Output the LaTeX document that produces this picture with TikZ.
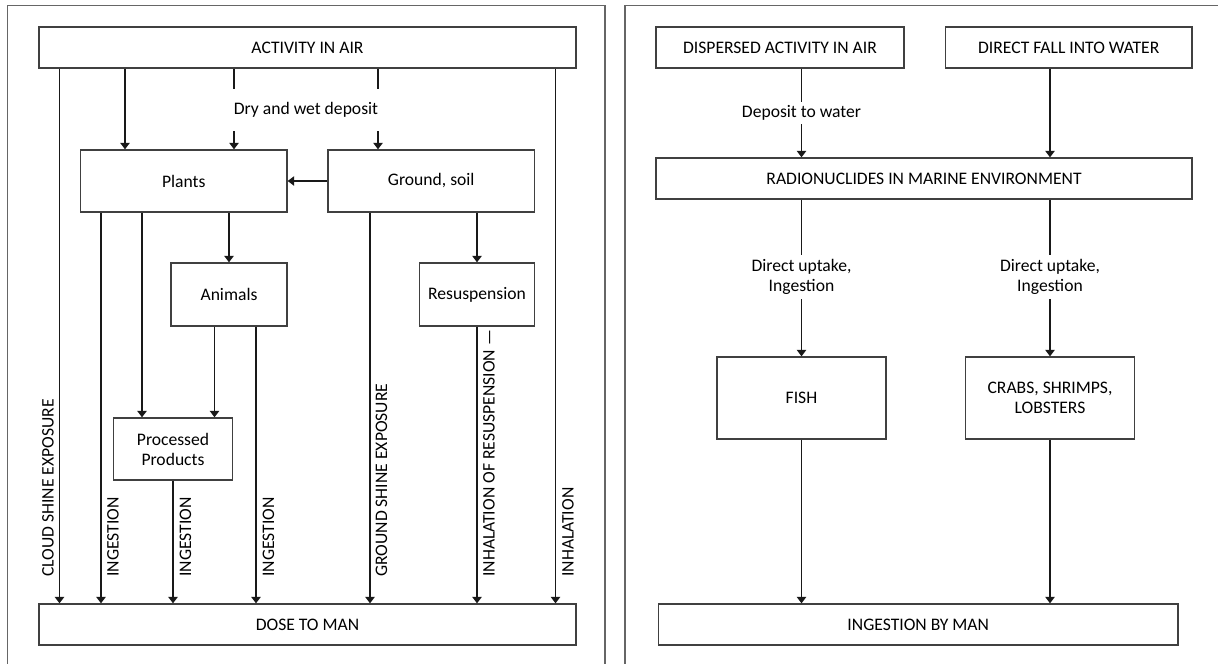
\documentclass[tikz,border=0pt]{standalone}
\usepackage{fontspec}
\setmainfont{Carlito}
\usepackage{tikz}
\usetikzlibrary{arrows.meta}
\usetikzlibrary{calc}

\tikzset{
  box/.style 2 args={draw=black!75, line width=1pt, minimum width=#1*0.75pt,
    minimum height=#2*0.75pt, inner sep=0pt, align=center},
  flow/.style={line width=0.8pt, black!90, -{Triangle[width=7pt,length=4.8pt]}},
  link/.style={line width=0.8pt, black!90},
  vlabel/.style={rotate=90, anchor=west, inner sep=0pt},
  hub/.style={inner sep=0pt, align=center},
  frame/.style={draw=black!60, line width=1.2pt}
}

\begin{document}
\begin{tikzpicture}[x=0.75pt, y=-0.75pt, font=\fontsize{13.2}{15}\selectfont]

      \useasboundingbox (0,0) rectangle (1218,664);
      \clip (0,0) rectangle (1218,664);

      % panels
      \draw [frame] (7.5,5.5) rectangle (605,680);
      \draw [frame] (625,5.5) rectangle (1240,680);

      % left panel: boxes
      \node [box={537}{41}] (air) at (307.5,47.5) {ACTIVITY IN AIR};
      \node [box={206.5}{62}] (plants) at (183.75,181) {Plants};
      \node [box={206.5}{62}] (ground) at (431.25,181) {Ground, soil};
      \node [box={116}{63}] (animals) at (229,294.5) {Animals};
      \node [box={115.5}{63}] (resusp) at (477,294.5) {Resuspension};
      \node [box={119.5}{62}] (processed) at (173,449) {Processed\\Products};
      \node [box={537}{41}] (dose) at (307.5,624.5) {DOSE TO MAN};
      \node [hub, minimum height=42*0.75pt] (deposit) at (306,110) {Dry and wet deposit};

      % columns
      \coordinate (xcloud) at (59.5,0);
      \coordinate (xair) at (125,0);
      \coordinate (xdepa) at (234,0);
      \coordinate (xdepb) at (378,0);
      \coordinate (xinh) at (555.5,0);
      \coordinate (xingA) at (101,0);
      \coordinate (xproc) at (142,0);
      \coordinate (xanproc) at (214.5,0);
      \coordinate (xingC) at (256,0);
      \coordinate (xshine) at (370,0);

      \draw [flow] (air.south -| xcloud) -- (dose.north -| xcloud);
      \draw [flow] (air.south -| xair) -- (plants.north -| xair);
      \draw [link] (air.south -| xdepa) -- (deposit.north -| xdepa);
      \draw [link] (air.south -| xdepb) -- (deposit.north -| xdepb);
      \draw [flow] (deposit.south -| xdepa) -- (plants.north -| xdepa);
      \draw [flow] (deposit.south -| xdepb) -- (ground.north -| xdepb);
      \draw [flow] (air.south -| xinh) -- (dose.north -| xinh);
      \draw [flow] (ground.west) -- (plants.east);

      \draw [flow] (plants.south -| xingA) -- (dose.north -| xingA);
      \draw [flow] (plants.south -| xproc) -- (processed.north -| xproc);
      \draw [flow] (plants.south -| animals) -- (animals.north);
      \draw [flow] (animals.south -| xanproc) -- (processed.north -| xanproc);
      \draw [flow] (animals.south -| xingC) -- (dose.north -| xingC);
      \draw [flow] (processed.south) -- (dose.north -| processed);
      \draw [flow] (ground.south -| xshine) -- (dose.north -| xshine);
      \draw [flow] (ground.south -| resusp) -- (resusp.north);
      \draw [flow] (resusp.south) -- (dose.north -| resusp);

      % pathway labels
      \node [vlabel] (lcloud) at (48,577) {CLOUD SHINE EXPOSURE};
      \node [vlabel] (linga) at (113,577) {INGESTION};
      \node [vlabel] (lingb) at (185.5,577) {INGESTION};
      \node [vlabel] (lingc) at (268.5,577) {INGESTION};
      \node [vlabel] (lshine) at (381.5,577) {GROUND SHINE EXPOSURE};
      \node [vlabel] (lresusp) at (489,577) {INHALATION OF RESUSPENSION \textemdash};
      \node [vlabel] (linh) at (568,577) {INHALATION};

      % right panel: boxes
      \node [box={248}{41}] (dispersed) at (780,47.5) {DISPERSED ACTIVITY IN AIR};
      \node [box={246.5}{41}] (fall) at (1068.75,47.5) {DIRECT FALL INTO WATER};
      \node [box={536}{41}] (marine) at (924,178.5) {RADIONUCLIDES IN MARINE ENVIRONMENT};
      \node [box={169}{82}] (fish) at (801.5,398) {FISH};
      \node [box={169.5}{82}] (crabs) at (1050,398) {CRABS, SHRIMPS,\\LOBSTERS};
      \node [box={519.5}{41}] (ingest) at (918.25,624.5) {INGESTION BY MAN};

      \node [hub, minimum height=22*0.75pt] (water) at (801.5,113) {Deposit to water};
      \node [hub, minimum height=44*0.75pt] (uptakeA) at (801.5,277) {Direct uptake,\\Ingestion};
      \node [hub, minimum height=44*0.75pt] (uptakeB) at (1050,277) {Direct uptake,\\Ingestion};

      \draw [link] (dispersed.south -| water) -- (water.north);
      \draw [flow] (water.south) -- (marine.north -| water);
      \draw [flow] (fall.south -| crabs) -- (marine.north -| crabs);
      \draw [link] (marine.south -| uptakeA) -- (uptakeA.north);
      \draw [flow] (uptakeA.south) -- (fish.north);
      \draw [link] (marine.south -| uptakeB) -- (uptakeB.north);
      \draw [flow] (uptakeB.south) -- (crabs.north);
      \draw [flow] (fish.south) -- (ingest.north -| fish);
      \draw [flow] (crabs.south) -- (ingest.north -| crabs);

    \end{tikzpicture}
\end{document}
